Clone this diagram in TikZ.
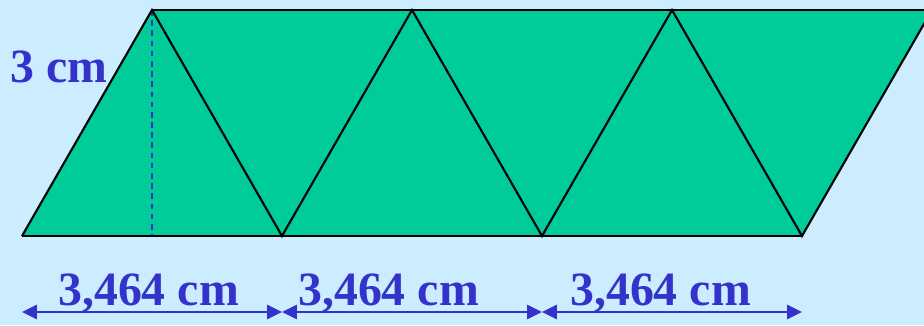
\documentclass[tikz,border=0pt]{standalone}
\usepackage{fontspec}
\setmainfont{Liberation Serif}
\usetikzlibrary{arrows.meta}
\definecolor{skybg}{RGB}{204,236,255}
\definecolor{tilegreen}{RGB}{0,204,153}
\definecolor{labelblue}{RGB}{51,51,204}

\begin{document}
\begin{tikzpicture}[
    x=0.02cm, y=-0.02cm,
    edge/.style={draw=black, line width=1.2pt},
    height/.style={draw=labelblue, line width=1.4pt, dash pattern=on 3.2pt off 2.6pt},
    lbl/.style={text=labelblue, inner sep=0pt,
                font=\fontsize{27.2}{30}\selectfont\bfseries},
    dim/.style={draw=labelblue, line width=1.6pt,
                {Triangle[length=8.5pt,width=8pt]}-{Triangle[length=8.5pt,width=8pt]}}
]
\fill[skybg] (0,0) rectangle (924,325);
\useasboundingbox (0,0) rectangle (924,325);
\clip (0,0) rectangle (924,325);

% vertices of the strip
\coordinate (b0) at (22,236);
\coordinate (b1) at (282,236);
\coordinate (b2) at (542,236);
\coordinate (b3) at (802,236);
\coordinate (t0) at (152,10);
\coordinate (t1) at (412,10);
\coordinate (t2) at (672,10);
\coordinate (t3) at (932,10);

\fill[tilegreen] (b0) -- (b3) -- (t3) -- (t0) -- cycle;
\draw[height] (t0) -- (t0 |- b0);
\draw[edge] (b0) -- (b3);
\draw[edge] (t0) -- (t3);
\draw[edge] (b0) -- (t0) -- (b1) -- (t1) -- (b2) -- (t2) -- (b3) -- (t3);

% dimension arrows
\coordinate (a0) at (22,312);
\coordinate (a1) at (282,312);
\coordinate (a2) at (542,312);
\coordinate (a3) at (802,312);
\draw[dim] (a0) -- (a1);
\draw[dim] (a1) -- (a2);
\draw[dim] (a2) -- (a3);

\node[lbl, anchor=base west] (h)  at (10,82)   {3 cm};
\node[lbl, anchor=base west] (w1) at (58,305)  {3,464 cm};
\node[lbl, anchor=base west] (w2) at (298,305) {3,464 cm};
\node[lbl, anchor=base west] (w3) at (570,305) {3,464 cm};
\end{tikzpicture}
\end{document}
